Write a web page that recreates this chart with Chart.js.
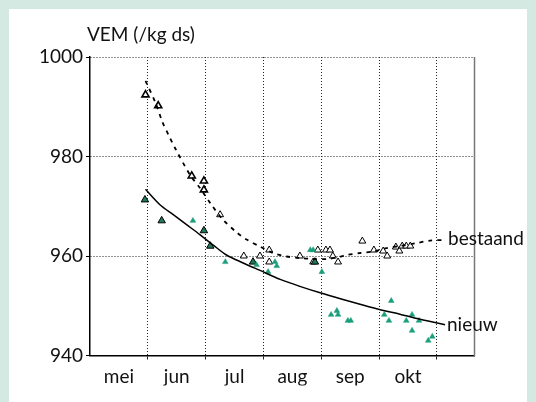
<!DOCTYPE html>
<html lang="nl">
<head>
<meta charset="utf-8">
<title>VEM (/kg ds)</title>
<script src="https://cdn.jsdelivr.net/npm/chart.js@4.4.1/dist/chart.umd.min.js"></script>
<style>
  html, body { margin: 0; padding: 0; background: #d3e9e1; }
  #paneel { position: absolute; left: 9px; top: 9px; width: 518px; height: 393px; background: #fff; }
  #grafiek { position: absolute; left: 0; top: 0; }
</style>
</head>
<body>
<div id="paneel"></div>
<canvas id="grafiek" width="536" height="402"></canvas>
<script>
  // x = maanden sinds 1 mei, y = VEM per kg ds
  const maanden = ['mei', 'jun', 'jul', 'aug', 'sep', 'okt'];
  const titel = 'VEM (/kg ds)';

  const bestaandLijn = [
    [0.96, 995.2], [1.14, 990.6], [1.25, 987.0], [1.36, 984.3], [1.48, 981.5],
    [1.73, 976.3], [1.90, 973.7], [2.10, 970.3], [2.30, 967.3], [2.54, 964.7],
    [2.71, 963.3], [2.94, 961.9], [3.17, 960.6], [3.40, 959.9], [3.63, 959.6],
    [3.86, 959.4], [4.10, 959.4], [4.30, 959.8], [4.44, 960.2], [4.67, 960.6],
    [4.90, 960.9], [5.13, 961.6], [5.36, 962.0], [5.65, 962.6], [5.88, 963.1],
    [6.14, 963.2],
  ];

  const nieuwLijn = [
    [0.96, 973.4], [1.21, 970.3], [1.44, 968.3], [1.67, 966.3], [1.90, 964.3],
    [2.13, 962.2], [2.36, 960.2], [2.65, 958.6], [2.94, 957.1], [3.29, 955.3],
    [3.63, 953.9], [3.98, 952.6], [4.33, 951.4], [4.67, 950.3], [5.02, 949.2],
    [5.36, 948.3], [5.71, 947.3], [6.14, 946.2],
  ];

  // metingen bestaand, vroeg in het seizoen
  const bestaandVroeg = [
    [0.96, 992.4], [1.18, 990.2], [1.76, 976.1], [1.97, 975.1], [1.97, 973.3],
  ];

  const bestaandMeting = [
    [2.25, 968.3], [2.66, 960.0], [2.94, 960.0], [3.10, 961.2], [3.10, 958.8],
    [3.63, 960.0], [3.86, 958.8], [3.94, 961.2], [4.08, 961.2], [4.15, 961.2],
    [4.20, 960.0], [4.29, 958.8], [4.71, 963.0], [4.91, 961.2], [5.07, 961.0],
    [5.14, 960.0], [5.29, 961.8], [5.35, 961.0], [5.40, 962.0], [5.47, 962.0],
    [5.54, 962.0],
  ];

  // metingen nieuw, samenvallende punten
  const nieuwDubbel = [
    [0.95, 971.3], [1.24, 967.1], [1.97, 965.1], [2.08, 962.0], [2.82, 958.8],
    [3.89, 958.8],
  ];

  const nieuwMeting = [
    [1.78, 967.1], [2.34, 958.8], [2.88, 958.2], [3.08, 956.8], [3.20, 958.8],
    [3.23, 958.0], [3.81, 961.2], [3.86, 961.2], [4.01, 956.8], [4.17, 948.2],
    [4.27, 949.0], [4.29, 948.2], [4.46, 947.0], [4.51, 947.0], [5.09, 948.2],
    [5.21, 951.0], [5.17, 947.0], [5.47, 947.0], [5.57, 948.2], [5.57, 945.0],
    [5.69, 947.0], [5.85, 943.0], [5.92, 943.8],
  ];

  const toXY = (rows) => rows.map(([x, y]) => ({ x, y }));
  const FONT = 'Lato';
  const ink = '#111';
  const teal = '#1b9e7b';

  const tekstPlugin = {
    id: 'tekst',
    afterDraw(chart) {
      const { ctx, chartArea, scales } = chart;
      ctx.save();
      ctx.strokeStyle = '#777';
      ctx.lineWidth = 1.5;
      ctx.beginPath();
      ctx.moveTo(chartArea.right, chartArea.top);
      ctx.lineTo(chartArea.right, chartArea.bottom + 0.75);
      ctx.stroke();

      ctx.font = `19px ${FONT}`;
      ctx.fillStyle = ink;
      ctx.textBaseline = 'middle';
      ctx.fillText(titel, chartArea.left - 3, chartArea.top - 22);

      const eindB = bestaandLijn[bestaandLijn.length - 1];
      const eindN = nieuwLijn[nieuwLijn.length - 1];
      ctx.fillText('bestaand', scales.x.getPixelForValue(eindB[0]) + 3, scales.y.getPixelForValue(eindB[1]) - 1);
      ctx.fillText('nieuw', scales.x.getPixelForValue(eindN[0]) + 2, scales.y.getPixelForValue(eindN[1]));
      ctx.restore();
    },
  };

  const isHeel = (v) => Math.abs(v - Math.round(v)) < 1e-6;

  new Chart(document.getElementById('grafiek'), {
    type: 'scatter',
    data: {
      datasets: [
        {
          label: 'bestaand',
          data: toXY(bestaandLijn),
          showLine: true,
          borderColor: '#000',
          borderWidth: 1.8,
          borderDash: [4, 5],
          pointRadius: 0,
          tension: 0.3,
        },
        {
          label: 'nieuw',
          data: toXY(nieuwLijn),
          showLine: true,
          borderColor: '#000',
          borderWidth: 1.5,
          pointRadius: 0,
          tension: 0.3,
        },
        {
          label: 'nieuw meting',
          data: toXY(nieuwMeting),
          pointStyle: 'triangle',
          pointRadius: 3.3,
          backgroundColor: teal,
          borderColor: teal,
          borderWidth: 0.5,
        },
        {
          label: 'nieuw dubbel',
          data: toXY(nieuwDubbel),
          pointStyle: 'triangle',
          pointRadius: 4.3,
          backgroundColor: '#1e7a5f',
          borderColor: '#000',
          borderWidth: 1,
        },
        {
          label: 'bestaand meting',
          data: toXY(bestaandMeting),
          pointStyle: 'triangle',
          pointRadius: 4,
          backgroundColor: '#fff',
          borderColor: '#000',
          borderWidth: 1,
        },
        {
          label: 'bestaand vroeg',
          data: toXY(bestaandVroeg),
          pointStyle: 'triangle',
          pointRadius: 4.1,
          backgroundColor: '#fff',
          borderColor: '#000',
          borderWidth: 1.6,
        },
      ],
    },
    options: {
      responsive: false,
      animation: false,
      layout: { padding: { left: 0, right: 61.5, top: 57, bottom: 16.5 } },
      plugins: {
        legend: { display: false },
        tooltip: { enabled: false },
      },
      scales: {
        x: {
          type: 'linear',
          min: 0,
          max: 6.65,
          afterFit: (scale) => { scale.height = 30; },
          border: { color: '#000', width: 1.5, dash: [1, 2] },
          grid: {
            color: (c) => (c.tick && isHeel(c.tick.value) && c.tick.value > 0 ? '#222' : 'transparent'),
            tickColor: (c) => (c.tick && isHeel(c.tick.value) && c.tick.value > 0 ? '#222' : 'transparent'),
            lineWidth: 1,
            tickLength: 4,
          },
          ticks: {
            stepSize: 0.5,
            includeBounds: false,
            autoSkip: false,
            maxRotation: 0,
            padding: 6,
            color: ink,
            font: { family: FONT, size: 19 },
            callback: (value) => {
              const i = Math.round(value - 0.5);
              if (Math.abs(value - 0.5 - i) < 1e-6 && maanden[i]) return maanden[i];
              return '';
            },
          },
        },
        y: {
          min: 940,
          max: 1000,
          afterFit: (scale) => { scale.width = 90; },
          border: { color: '#000', width: 1.5, dash: [1, 2] },
          grid: {
            color: '#222',
            tickColor: '#000',
            lineWidth: 1,
            tickLength: 4,
          },
          ticks: {
            stepSize: 20,
            padding: 3,
            color: ink,
            font: { family: FONT, size: 19 },
            callback: (value) => String(value),
          },
        },
      },
    },
    plugins: [tekstPlugin],
  });
</script>
</body>
</html>
